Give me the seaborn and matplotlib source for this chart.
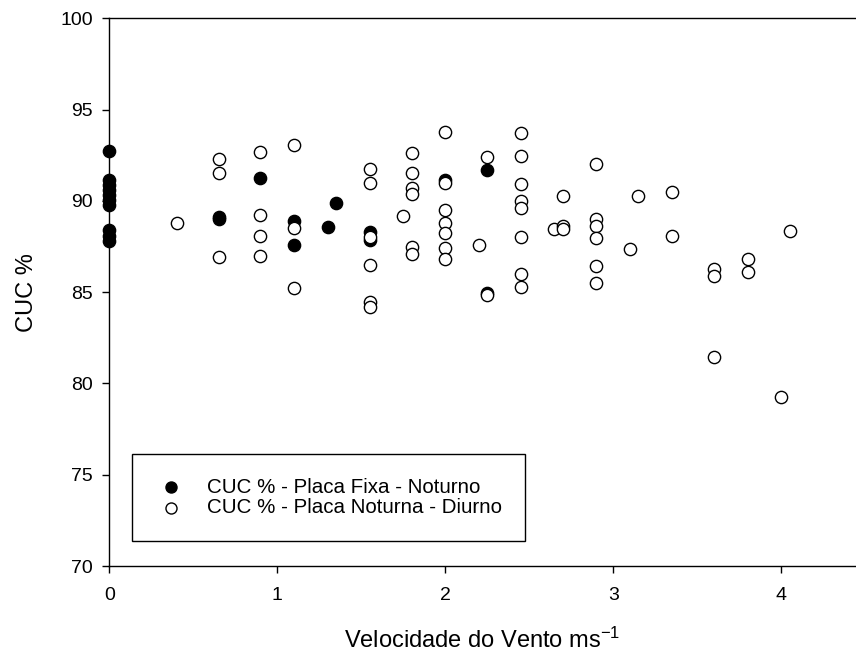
import matplotlib
matplotlib.use("Agg")
import matplotlib.pyplot as plt
import seaborn as sns
import pandas as pd

# Wind speed (m/s) and uniformity coefficient (CUC %) for each test
fixa_x = [0, 0, 0, 0, 0, 0, 0, 0, 0, 0,
          0.65, 0.65, 0.9, 1.1, 1.1, 1.3, 1.35, 1.55, 1.55,
          2.0, 2.25, 2.25]
fixa_y = [92.73, 91.14, 90.87, 90.6, 90.32, 90.05, 89.78, 88.41, 88.08, 87.82,
          89.1, 89.0, 91.25, 88.9, 87.6, 88.55, 89.9, 88.3, 87.86,
          91.14, 91.7, 84.95]

noturna_x = [0.4,
             0.65, 0.65, 0.65,
             0.9, 0.9, 0.9, 0.9,
             1.1, 1.1, 1.1,
             1.55, 1.55, 1.55, 1.55, 1.55, 1.55,
             1.75,
             1.8, 1.8, 1.8, 1.8, 1.8, 1.8,
             2.0, 2.0, 2.0, 2.0, 2.0, 2.0, 2.0,
             2.2,
             2.25, 2.25,
             2.45, 2.45, 2.45, 2.45, 2.45, 2.45, 2.45, 2.45,
             2.65,
             2.7, 2.7, 2.7,
             2.9, 2.9, 2.9, 2.9, 2.9, 2.9,
             3.1, 3.15,
             3.35, 3.35,
             3.6, 3.6, 3.6,
             3.8, 3.8,
             4.0, 4.05]
noturna_y = [88.8,
             92.3, 91.55, 86.9,
             92.65, 89.2, 88.1, 87.0,
             93.05, 88.5, 85.25,
             91.75, 91.0, 88.04, 86.5, 84.45, 84.2,
             89.15,
             92.6, 91.55, 90.7, 90.35, 87.5, 87.1,
             93.75, 90.96, 89.49, 88.77, 88.22, 87.4, 86.82,
             87.6,
             92.4, 84.85,
             93.7, 92.45, 90.9, 90.0, 89.6, 88.0, 86.0, 85.3,
             88.45,
             90.25, 88.65, 88.45,
             92.0, 89.0, 88.6, 87.95, 86.45, 85.5,
             87.35, 90.25,
             90.5, 88.1,
             86.25, 85.9, 81.45,
             86.8, 86.1,
             79.25, 88.35]

label_fixa = "CUC % - Placa Fixa - Noturno"
label_noturna = "CUC % - Placa Noturna - Diurno"

x_ticks = [0, 1, 2, 3, 4]
y_ticks = [70, 75, 80, 85, 90, 95, 100]

sns.set_theme(style="ticks")
plt.rcParams["font.family"] = ["Liberation Sans", "DejaVu Sans"]
plt.rcParams["mathtext.fontset"] = "custom"
plt.rcParams["mathtext.rm"] = "Liberation Sans"
plt.rcParams["mathtext.it"] = "Liberation Sans"
plt.rcParams["mathtext.default"] = "regular"

df_fixa = pd.DataFrame({"vento": fixa_x, "cuc": fixa_y})
df_noturna = pd.DataFrame({"vento": noturna_x, "cuc": noturna_y})

fig = plt.figure(figsize=(8.56, 6.63), dpi=100)
ax = fig.add_axes([0.1277, 0.1463, 0.8723, 0.8261])

sns.scatterplot(data=df_fixa, x="vento", y="cuc", ax=ax, s=78,
                color="black", edgecolor="black", linewidth=1.0,
                label=label_fixa, zorder=3)
sns.scatterplot(data=df_noturna, x="vento", y="cuc", ax=ax, s=78,
                facecolor="white", edgecolor="black", linewidth=1.0,
                label=label_noturna, zorder=4)
# points sitting on the y axis are drawn whole, over the spine
for coll in ax.collections:
    coll.set_clip_on(False)

ax.set_xlim(0, 4.445)
ax.set_ylim(70, 100)
ax.set_xticks(x_ticks)
ax.set_yticks(y_ticks)
ax.set_xticklabels([str(t) for t in x_ticks])
ax.set_yticklabels([str(t) for t in y_ticks])

for side in ["left", "bottom", "top"]:
    ax.spines[side].set_color("black")
    ax.spines[side].set_linewidth(1.0)
    ax.spines[side].set_zorder(2)
ax.spines["right"].set_visible(False)

ax.tick_params(axis="both", direction="out", length=5, width=1.0,
               color="black", labelsize=14, labelcolor="black")
ax.tick_params(axis="x", pad=10)
ax.tick_params(axis="y", pad=7)

ax.set_xlabel("Velocidade do Vento ms$^{-1}$", fontsize=17, color="black",
              labelpad=17)
ax.set_ylabel("CUC %", fontsize=17, color="black", labelpad=16)

leg = ax.legend(loc="lower left", bbox_to_anchor=(0.030, 0.046),
                borderaxespad=0, frameon=True, fancybox=False,
                fontsize=14.8, markerscale=0.9, borderpad=1.15,
                labelspacing=0.08, handletextpad=1.0, handlelength=1.5)
frame = leg.get_frame()
frame.set_edgecolor("black")
frame.set_linewidth(1.0)
frame.set_facecolor("white")
frame.set_alpha(1.0)
for txt in leg.get_texts():
    txt.set_color("black")

fig.savefig("out.png", dpi=100)
